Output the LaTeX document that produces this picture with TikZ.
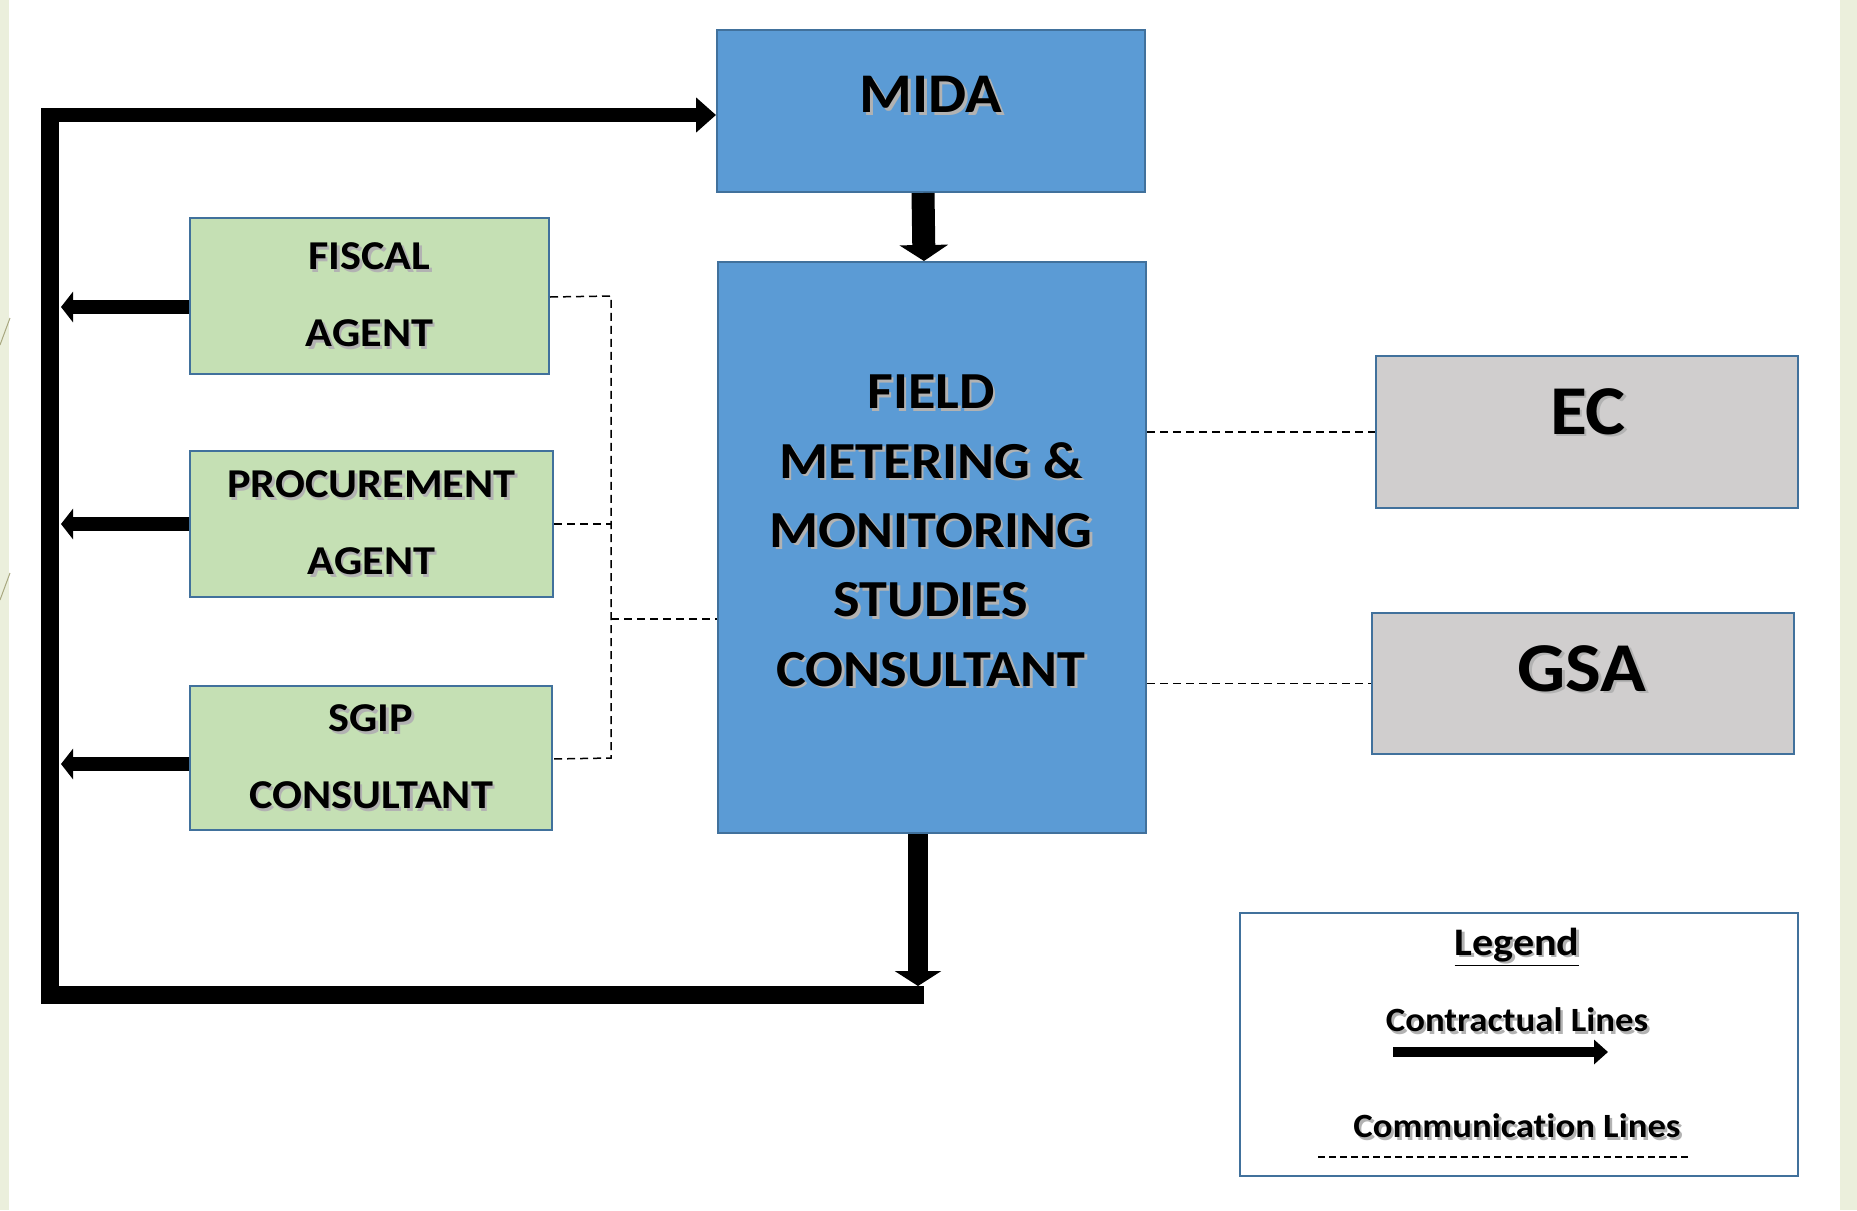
\documentclass[tikz,border=0pt]{standalone}
\usepackage{fontspec}
\setmainfont{Carlito}[FakeStretch=1.08, Ligatures=NoCommon]
\usetikzlibrary{arrows.meta,calc}
\definecolor{bluefill}{HTML}{5B9BD5}
\definecolor{blueedge}{HTML}{41719C}
\definecolor{greenfill}{HTML}{C5E0B4}
\definecolor{greyfill}{HTML}{D0CECE}
\definecolor{stripcol}{HTML}{EBEFDC}
\definecolor{decocol}{HTML}{A8A880}
\newcommand\shd[1]{\makebox[0pt][l]{\color{black!30}\hspace{2.5pt}\raisebox{-2.5pt}{#1}}#1}
\begin{document}
\begin{tikzpicture}[x=1pt,y=-1pt,
  box/.style={draw=blueedge, line width=2pt, anchor=north west, inner sep=0pt},
  bluebox/.style={box, fill=bluefill},
  greenbox/.style={box, fill=greenfill, align=center, font=\fontsize{41}{77}\selectfont\bfseries},
  greybox/.style={box, fill=greyfill},
  txt/.style={inner sep=0pt, align=center},
  contract/.style={line width=14pt, -{Triangle[length=20pt,width=34pt]}},
  sidearrow/.style={line width=14pt, -{Triangle[length=12pt,width=30pt]}},
  comm/.style={line width=1.5pt, dash pattern=on 8pt off 5pt},
]
\useasboundingbox (0,0) rectangle (1857,1210);
\fill[white] (0,0) rectangle (1857,1210);
\fill[stripcol] (0,0) rectangle (9,1210);
\fill[stripcol] (1840,0) rectangle (1857,1210);
\draw[decocol, line width=1pt] (0,345) -- (10,318);
\draw[decocol, line width=1pt] (0,600) -- (10,573);

% boxes
\node[bluebox, minimum width=428pt, minimum height=162pt] (mida) at (716,29) {};
\node[bluebox, minimum width=428pt, minimum height=571pt] (fmms) at (717,261) {};
\node[greenbox, minimum width=359pt, minimum height=156pt] (fiscal) at (189,217) {\shd{FISCAL}\\\shd{AGENT}};
\node[greenbox, minimum width=363pt, minimum height=146pt] (proc) at (189,450) {\shd{PROCUREMENT}\\\shd{AGENT}};
\node[greenbox, minimum width=362pt, minimum height=144pt] (sgip) at (189,685) {\shd{SGIP}\\\shd{CONSULTANT}};
\node[greybox, minimum width=422pt, minimum height=152pt] (ec) at (1375,355) {};
\node[greybox, minimum width=422pt, minimum height=141pt] (gsa) at (1371,612) {};
\node[box, fill=white, minimum width=558pt, minimum height=263pt] (legend) at (1239,912) {};

% texts in boxes
\node[txt, font=\fontsize{56}{60}\selectfont\bfseries] (midatext) at (931,96) {\shd{MIDA}};
\node[txt, font=\fontsize{52}{69.3}\selectfont\bfseries] (fmmstext) at (931,532)
  {\shd{FIELD}\\\shd{METERING \&}\\\shd{MONITORING}\\\shd{STUDIES}\\\shd{CONSULTANT}};
\node[txt, font=\fontsize{70}{72}\selectfont\bfseries] (ectext) at (1588,413) {\shd{EC}};
\node[txt, font=\fontsize{70}{72}\selectfont\bfseries] (gsatext) at (1582,670) {\shd{GSA}};

% contractual lines
\coordinate (tl) at (41,115);
\coordinate (vt) at (50,115);
\coordinate (bl) at (50,995);
\coordinate (br) at (924,995);
\coordinate (bt) at (918,986);
\coordinate (barr) at (61,0);
\draw[line width=18pt, line join=miter] (br) -- (bl) -- (vt);
\draw[contract] (tl) -- (tl -| mida.west);
\draw[line width=23pt, -{Triangle[length=16pt,width=48pt]}] ([xshift=-8pt]mida.south) -- ([xshift=-8pt]fmms.north);
\draw[line width=20pt, -{Triangle[length=15pt,width=46pt]}] (fmms.south -| bt) -- (bt);
\coordinate (fa) at ($(fiscal.west)+(0,11)$);
\coordinate (pa) at (proc.west);
\coordinate (sa) at ($(sgip.west)+(0,6)$);
\draw[sidearrow] (fa) -- (fa -| barr);
\draw[sidearrow] (pa) -- (pa -| barr);
\draw[sidearrow] (sa) -- (sa -| barr);

% communication lines
\coordinate (jtop) at (611,296);
\coordinate (jmid) at (611,619);
\coordinate (jbot) at (611,758);
\draw[comm] ($(fiscal.east)+(0,1)$) -- (jtop) -- (jbot) -- ($(sgip.east)+(0,1)$);
\draw[comm] (proc.east) -- (proc.east -| jtop);
\draw[comm] (jmid) -- (jmid -| fmms.west);
\draw[comm] (ec.west -| fmms.east) -- (ec.west);
\draw[comm] (gsa.west -| fmms.east) -- (gsa.west);

% legend
\node[txt, font=\fontsize{39}{40}\selectfont\bfseries] (legtitle) at (1517,947) {\underline{\shd{Legend}}};
\node[txt, font=\fontsize{34}{36}\selectfont\bfseries] (legcontract) at (1517,1021) {\shd{Contractual Lines}};
\coordinate (la) at (1393,1052);
\coordinate (lb) at (1608,1052);
\draw[line width=10pt, -{Triangle[length=14pt,width=24pt]}] (la) -- (lb);
\node[txt, font=\fontsize{34}{36}\selectfont\bfseries] (legcomm) at (1517,1127) {\shd{Communication Lines}};
\coordinate (lc) at (1318,1157);
\coordinate (ld) at (1689,1157);
\draw[line width=1.3pt, dash pattern=on 7pt off 4pt] (lc) -- (ld);
\end{tikzpicture}
\end{document}
